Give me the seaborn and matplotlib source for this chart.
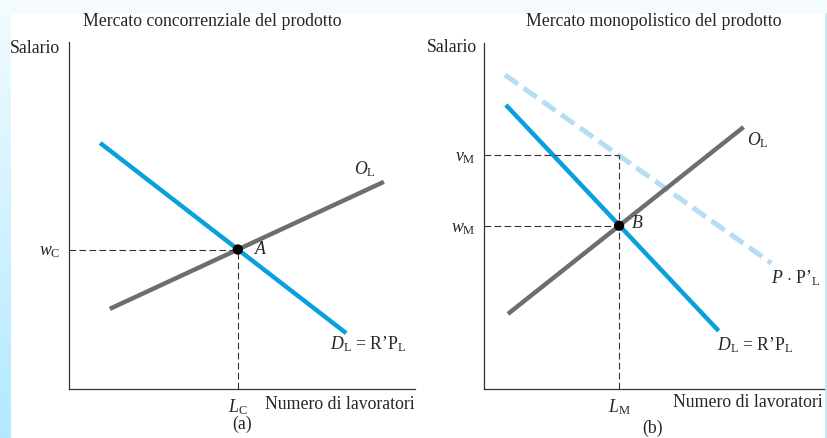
import numpy as np
import pandas as pd
import matplotlib
matplotlib.use('Agg')
import matplotlib.pyplot as plt
import seaborn as sns

# panel (a): mercato concorrenziale
a_domanda_x = [9.0, 80.1]
a_domanda_y = [70.9, 16.1]
a_offerta_x = [11.8, 91.0]
a_offerta_y = [23.1, 59.7]
a_eq = (48.8, 40.2)

# panel (b): mercato monopolistico
b_domanda_x = [6.4, 68.6]
b_domanda_y = [82.1, 16.8]
b_offerta_x = [7.0, 75.9]
b_offerta_y = [21.7, 75.7]
b_ppl_x = [6.1, 84.0]
b_ppl_y = [90.8, 36.4]
b_eq = (39.5, 47.2)
b_vm = 67.5

BLUE = '#0a9fdd'
GRAY = '#6e6e6e'
LIGHT = '#b3def4'
FS = 12.8

sns.set_theme(style='white')
plt.rcParams['font.family'] = ['Liberation Serif', 'DejaVu Serif']
plt.rcParams['mathtext.fontset'] = 'custom'
plt.rcParams['mathtext.rm'] = 'Liberation Serif'
plt.rcParams['mathtext.it'] = 'Liberation Serif:italic'
plt.rcParams['font.size'] = FS

fig = plt.figure(figsize=(8.28, 4.38), dpi=100)
fig.patch.set_facecolor('white')

# background strips
bg = fig.add_axes([0, 0, 11 / 828, 1])
grad = np.linspace(0, 1, 200).reshape(-1, 1)
cmap = matplotlib.colors.LinearSegmentedColormap.from_list('g', ['#f2fbff', '#b2e9ff'])
bg.imshow(grad, aspect='auto', cmap=cmap, extent=[0, 1, 0, 1], origin='upper')
bg.axis('off')
top = fig.add_axes([0, 1 - 14 / 438, 1, 14 / 438])
top.set_facecolor('#f4fbff')
top.set_xticks([]); top.set_yticks([])
for s in top.spines.values():
    s.set_visible(False)
fig.add_artist(plt.Line2D([826 / 828, 826 / 828], [0, 1 - 14 / 438], color='#bfe6f7', lw=1.2))

ax1 = fig.add_axes([69 / 828, 49 / 438, 346 / 828, 347 / 438])
ax2 = fig.add_axes([484 / 828, 49 / 438, 342 / 828, 346 / 438])

for ax in (ax1, ax2):
    ax.set_xlim(0, 100)
    ax.set_ylim(0, 100)
    ax.set_facecolor('none')
    for side in ('top', 'right'):
        ax.spines[side].set_visible(False)
    for side in ('left', 'bottom'):
        ax.spines[side].set_color('#333333')
        ax.spines[side].set_linewidth(0.9)
    ax.tick_params(length=0, pad=6, labelsize=FS)

DL_LABEL = r'$D_{\mathrm{L}}$ = R’P$_{\mathrm{L}}$'

# --- panel (a)
sns.lineplot(x=a_offerta_x, y=a_offerta_y, ax=ax1, color=GRAY, lw=3.2, solid_capstyle='butt')
sns.lineplot(x=a_domanda_x, y=a_domanda_y, ax=ax1, color=BLUE, lw=3.2, solid_capstyle='butt')
ax1.plot([0, a_eq[0]], [a_eq[1], a_eq[1]], ls=(0, (6, 3)), color='#333333', lw=0.8)
ax1.plot([a_eq[0], a_eq[0]], [0, a_eq[1]], ls=(0, (6, 3)), color='#333333', lw=0.8)
sns.scatterplot(x=[a_eq[0]], y=[a_eq[1]], ax=ax1, color='black', s=55, zorder=5, edgecolor='none')
ax1.set_xticks([a_eq[0]], labels=[r'$L_{\mathrm{C}}$'])
ax1.set_yticks([a_eq[1]], labels=[r'$w_{\mathrm{C}}$'])
ax1.text(a_eq[0] + 4.7, a_eq[1], r'$A$', va='center', ha='left')
ax1.text(82.4, 63.4, r'$O_{\mathrm{L}}$', va='center', ha='left')
ax1.text(75.4, 13.0, DL_LABEL, va='center', ha='left')
ax1.text(1.0, -0.045, 'Numero di lavoratori', transform=ax1.transAxes, ha='right', va='center')
ax1.text(-0.026, 0.98, 'Salario', transform=ax1.transAxes, ha='right', va='center')

# --- panel (b)
sns.lineplot(x=b_ppl_x, y=b_ppl_y, ax=ax2, color=LIGHT, lw=3.6, solid_capstyle='butt')
ax2.lines[-1].set_linestyle((0, (3.2, 1.4)))
sns.lineplot(x=b_offerta_x, y=b_offerta_y, ax=ax2, color=GRAY, lw=3.2, solid_capstyle='butt')
sns.lineplot(x=b_domanda_x, y=b_domanda_y, ax=ax2, color=BLUE, lw=3.2, solid_capstyle='butt')
ax2.plot([0, b_eq[0]], [b_vm, b_vm], ls=(0, (6, 3)), color='#333333', lw=0.8)
ax2.plot([0, b_eq[0]], [b_eq[1], b_eq[1]], ls=(0, (6, 3)), color='#333333', lw=0.8)
ax2.plot([b_eq[0], b_eq[0]], [0, b_vm], ls=(0, (6, 3)), color='#333333', lw=0.8)
sns.scatterplot(x=[b_eq[0]], y=[b_eq[1]], ax=ax2, color='black', s=55, zorder=5, edgecolor='none')
ax2.set_xticks([b_eq[0]], labels=[r'$L_{\mathrm{M}}$'])
ax2.set_yticks([b_eq[1], b_vm], labels=[r'$w_{\mathrm{M}}$', r'$v_{\mathrm{M}}$'])
ax2.text(b_eq[0] + 3.5, b_eq[1] + 0.6, r'$B$', va='center', ha='left')
ax2.text(77.0, 72.0, r'$O_{\mathrm{L}}$', va='center', ha='left')
ax2.text(84.0, 32.0, r'$P$ $\cdot$ P’$_{\mathrm{L}}$', va='center', ha='left')
ax2.text(68.0, 12.7, DL_LABEL, va='center', ha='left')
ax2.text(0.99, -0.04, 'Numero di lavoratori', transform=ax2.transAxes, ha='right', va='center')
ax2.text(-0.02, 0.986, 'Salario', transform=ax2.transAxes, ha='right', va='center')

fig.text(212 / 828, 1 - 22 / 438, 'Mercato concorrenziale del prodotto', ha='center', va='center')
fig.text(654 / 828, 1 - 22 / 438, 'Mercato monopolistico del prodotto', ha='center', va='center')
fig.text(242 / 828, 1 - 424 / 438, '(a)', ha='center', va='center')
fig.text(653 / 828, 1 - 428 / 438, '(b)', ha='center', va='center')

fig.savefig('out.png', dpi=100)
